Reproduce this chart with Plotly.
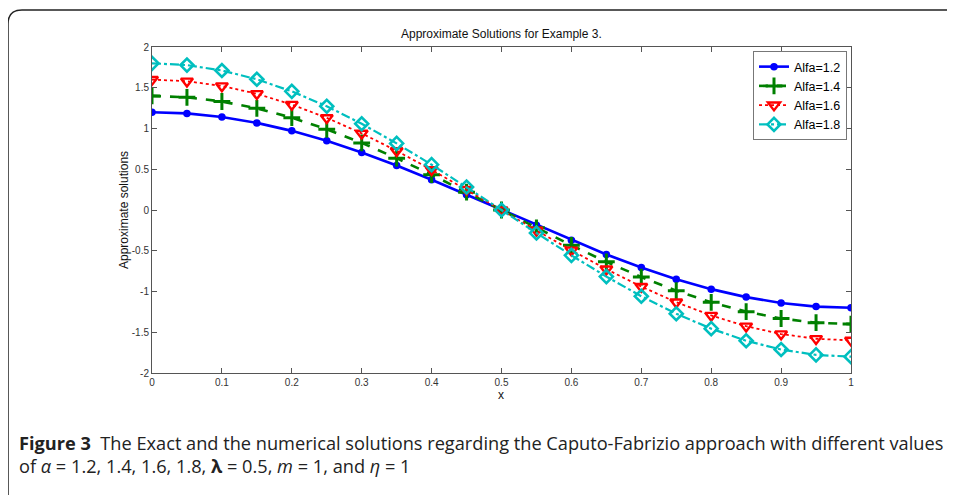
import plotly.graph_objects as go

x_vals = [0.0, 0.05, 0.1, 0.15, 0.2, 0.25, 0.3, 0.35, 0.4, 0.45, 0.5,
          0.55, 0.6, 0.65, 0.7, 0.75, 0.8, 0.85, 0.9, 0.95, 1.0]
alfa_12 = [1.2, 1.185, 1.141, 1.069, 0.971, 0.849, 0.705, 0.545, 0.371, 0.188, 0.0,
           -0.188, -0.371, -0.545, -0.705, -0.849, -0.971, -1.069, -1.141, -1.185, -1.2]
alfa_14 = [1.4, 1.383, 1.331, 1.247, 1.133, 0.99, 0.823, 0.636, 0.433, 0.219, 0.0,
           -0.219, -0.433, -0.636, -0.823, -0.99, -1.133, -1.247, -1.331, -1.383, -1.4]
alfa_16 = [1.6, 1.58, 1.522, 1.426, 1.294, 1.131, 0.94, 0.726, 0.494, 0.25, 0.0,
           -0.25, -0.494, -0.726, -0.94, -1.131, -1.294, -1.426, -1.522, -1.58, -1.6]
alfa_18 = [1.8, 1.778, 1.712, 1.604, 1.456, 1.273, 1.058, 0.817, 0.556, 0.282, 0.0,
           -0.282, -0.556, -0.817, -1.058, -1.273, -1.456, -1.604, -1.712, -1.778, -1.8]
series_names = ["Alfa=1.2", "Alfa=1.4", "Alfa=1.6", "Alfa=1.8"]
x_ticks = [0, 0.1, 0.2, 0.3, 0.4, 0.5, 0.6, 0.7, 0.8, 0.9, 1]
x_tick_labels = ["0", "0.1", "0.2", "0.3", "0.4", "0.5", "0.6", "0.7", "0.8", "0.9", "1"]
y_ticks = [-2, -1.5, -1, -0.5, 0, 0.5, 1, 1.5, 2]
y_tick_labels = ["-2", "-1.5", "-1", "-0.5", "0", "0.5", "1", "1.5", "2"]

OFF = 8  # page body margin
W, H = 955 - OFF, 495 - OFF
L, R, T, B = 152 - OFF, 851 - OFF, 47 - OFF, 373 - OFF


def px(xp):
    return (xp - OFF - L) / (R - L)


def py(yp):
    return (B - (yp - OFF)) / (B - T)


fig = go.Figure()
styles = [
    dict(color="#0000FF", dash="solid", width=2.6, symbol="circle", msize=7.5, mlw=0),
    dict(color="#008000", dash="dash", width=2.6, symbol="cross-thin", msize=12, mlw=3),
    dict(color="#FF0000", dash="dot", width=1.8, symbol="triangle-down-open", msize=10.5, mlw=2.4),
    dict(color="#00BFBF", dash="dashdot", width=2.2, symbol="diamond-open", msize=10, mlw=2.6),
]
for name, ys, st in zip(series_names, [alfa_12, alfa_14, alfa_16, alfa_18], styles):
    fig.add_trace(go.Scatter(
        x=x_vals, y=ys, name=name, mode="lines+markers",
        line=dict(color=st["color"], dash=st["dash"], width=st["width"]),
        marker=dict(symbol=st["symbol"], size=st["msize"], color=st["color"],
                    line=dict(color=st["color"], width=st["mlw"])),
    ))

axis_common = dict(
    showgrid=False, zeroline=False, showline=True, linecolor="#555555", linewidth=1,
    mirror="ticks", ticks="inside", ticklen=5, tickcolor="#555555",
    tickfont=dict(family="Arial, Liberation Sans", size=10, color="#333333"),
)
fig.update_xaxes(range=[0, 1], tickvals=x_ticks, ticktext=x_tick_labels, **axis_common)
fig.update_yaxes(range=[-2, 2], tickvals=y_ticks, ticktext=y_tick_labels, **axis_common)

# outer frame (top and left edges with rounded corner)
path = (f"M {px(8)},{py(510)} L {px(8)},{py(24)} "
        f"Q {px(8)},{py(10)} {px(22)},{py(10)} L {px(970)},{py(10)}")
fig.add_shape(type="path", path=path, xref="paper", yref="paper",
              line=dict(color="#222222", width=1.5))

cap_font = dict(family="Open Sans, Noto Sans, Arial", size=18.2, color="#222222")
annotations = [
    dict(text="Approximate Solutions for Example 3.", x=px(501), y=py(34),
         font=dict(family="Arial, Liberation Sans", size=12, color="#111111")),
    dict(text="x", x=px(501), y=py(395),
         font=dict(family="Arial, Liberation Sans", size=12, color="#111111")),
    dict(text="Approximate solutions", x=px(124), y=py(210), textangle=-90,
         font=dict(family="Arial, Liberation Sans", size=12, color="#111111")),
    dict(text="<b>Figure 3</b>  The Exact and the numerical solutions regarding the Caputo-Fabrizio approach with different values",
         x=px(17), y=py(443), xanchor="left", font=cap_font),
    dict(text="of <i>α</i> = 1.2, 1.4, 1.6, 1.8, <b>λ</b> = 0.5, <i>m</i> = 1, and <i>η</i> = 1",
         x=px(17), y=py(466), xanchor="left", font=cap_font),
]
for a in annotations:
    a.setdefault("xanchor", "center")
    fig.add_annotation(xref="paper", yref="paper", yanchor="middle", showarrow=False, **a)

fig.update_layout(
    width=W, height=H,
    margin=dict(l=L, r=W - R, t=T, b=H - B),
    paper_bgcolor="white", plot_bgcolor="white",
    showlegend=True,
    legend=dict(x=px(847), y=py(51), xanchor="right", yanchor="top",
                bgcolor="white", bordercolor="#777777", borderwidth=1,
                font=dict(family="Arial, Liberation Sans", size=12.5, color="#000000"),
                tracegroupgap=0, itemwidth=30),
)
fig.write_html("out.html")
